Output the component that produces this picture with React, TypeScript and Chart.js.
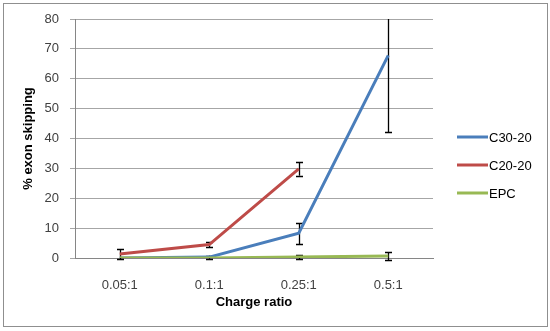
import React, { useEffect, useRef } from "react";
import { Chart, registerables } from "chart.js";

Chart.register(...registerables);

const categories = ["0.05:1", "0.1:1", "0.25:1", "0.5:1"];
const seriesNames = ["C30-20", "C20-20", "EPC"];
const c3020 = [0, 0.3, 8.3, 67.8];
const c3020Err = [0, 0.5, 3.5, 25.7];
const c2020 = [1.3, 4.5, 29.8, null];
const c2020Err = [1.7, 0.8, 2.2, null];
const epc = [0, 0, 0.3, 0.7];
const epcErr = [0, 0, 0.6, 1.3];
const yMin = 0;
const yMax = 80;
const yStep = 10;
const xTitle = "Charge ratio";
const yTitle = "% exon skipping";

const colors = ["#4a7ebb", "#be4b48", "#98b954"];
const FONT = "'Liberation Sans', Arial, sans-serif";

const errorBarPlugin = {
  id: "errorBars",
  beforeDatasetsDraw(chart: any) {
    const { ctx, chartArea, scales } = chart;
    const xs = scales.x;
    const ys = scales.y;
    ctx.save();
    ctx.beginPath();
    ctx.rect(chartArea.left, chartArea.top, chartArea.right - chartArea.left, chartArea.bottom - chartArea.top + 5);
    ctx.clip();
    ctx.strokeStyle = "#000";
    ctx.lineWidth = 1.3;
    chart.data.datasets.forEach((ds: any) => {
      const errs = ds.errors as (number | null)[];
      ds.data.forEach((v: number | null, i: number) => {
        const e = errs[i];
        if (v == null || !e) return;
        const px = Math.round(xs.getPixelForValue(i)) + 0.5;
        const top = ys.getPixelForValue(v + e);
        const bot = ys.getPixelForValue(v - e);
        ctx.beginPath();
        ctx.moveTo(px, top);
        ctx.lineTo(px, bot);
        ctx.moveTo(px - 3.5, Math.round(top) + 0.5);
        ctx.lineTo(px + 3.5, Math.round(top) + 0.5);
        ctx.moveTo(px - 3.5, Math.round(bot) + 0.5);
        ctx.lineTo(px + 3.5, Math.round(bot) + 0.5);
        ctx.stroke();
      });
    });
    ctx.restore();
  },
};

const decorPlugin = {
  id: "decor",
  afterDraw(chart: any) {
    const { ctx, chartArea } = chart;
    ctx.save();
    ctx.strokeStyle = "#8f8f8f";
    ctx.lineWidth = 1;
    ctx.strokeRect(3.5, 3.5, 544, 323);
    ctx.fillStyle = "#000";
    ctx.font = `bold 13px ${FONT}`;
    ctx.textAlign = "center";
    ctx.textBaseline = "middle";
    ctx.fillText(xTitle, (chartArea.left + chartArea.right) / 2, 302);
    ctx.save();
    ctx.translate(28, (chartArea.top + chartArea.bottom) / 2);
    ctx.rotate(-Math.PI / 2);
    ctx.fillText(yTitle, 0, 0);
    ctx.restore();
    ctx.font = `13px ${FONT}`;
    ctx.textAlign = "left";
    chart.data.datasets.forEach((ds: any, i: number) => {
      const y = 137 + i * 28;
      ctx.strokeStyle = ds.borderColor;
      ctx.lineWidth = 3;
      ctx.beginPath();
      ctx.moveTo(457, y);
      ctx.lineTo(488, y);
      ctx.stroke();
      ctx.fillStyle = "#000";
      ctx.fillText(ds.label, 489, y + 1);
    });
    ctx.restore();
  },
};

export default function App() {
  const ref = useRef<HTMLCanvasElement | null>(null);
  useEffect(() => {
    if (!ref.current) return;
    const values = [c3020, c2020, epc];
    const errs = [c3020Err, c2020Err, epcErr];
    const chart = new Chart(ref.current, {
      type: "line",
      data: {
        labels: categories,
        datasets: seriesNames.map((name, i) => ({
          label: name,
          data: values[i],
          errors: errs[i],
          order: seriesNames.length - i,
          borderColor: colors[i],
          backgroundColor: colors[i],
          borderWidth: 3,
          pointRadius: 0,
          tension: 0,
          spanGaps: false,
        })) as any,
      },
      options: {
        responsive: false,
        animation: false,
        layout: { padding: { top: 19, right: 117, left: 0, bottom: 0 } },
        plugins: {
          legend: { display: false },
          tooltip: { enabled: false },
          title: { display: false },
        },
        scales: {
          x: {
            offset: true,
            grid: { display: false },
            border: { display: true, color: "#868686", width: 1 },
            ticks: { color: "#404040", font: { family: FONT, size: 13 }, padding: 12, maxRotation: 0 },
            afterFit: (s: any) => {
              s.height = 73;
            },
          },
          y: {
            min: yMin,
            max: yMax,
            grid: { color: "#a6a6a6", lineWidth: 1, drawTicks: true, tickLength: 5, tickColor: "#a6a6a6" },
            border: { display: true, color: "#868686", width: 1 },
            ticks: { stepSize: yStep, color: "#404040", font: { family: FONT, size: 13 }, padding: 11 },
            afterFit: (s: any) => {
              s.width = 75;
            },
          },
        },
      } as any,
      plugins: [errorBarPlugin, decorPlugin],
    });
    return () => chart.destroy();
  }, []);
  return (
    <div style={{ position: "absolute", left: 0, top: 0, width: 550, height: 331, background: "#fff" }}>
      <canvas ref={ref} width={550} height={331} />
    </div>
  );
}
